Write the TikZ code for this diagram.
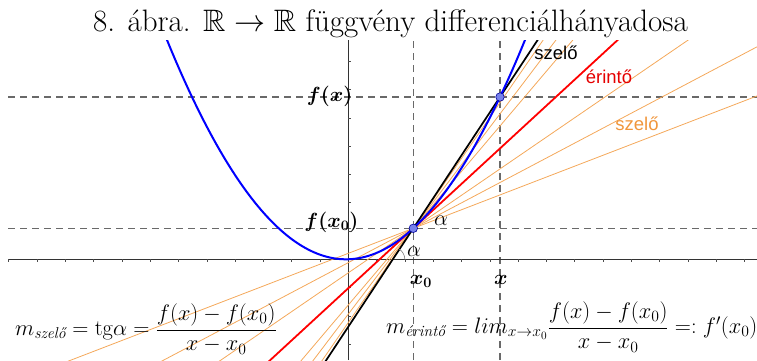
\RequirePackage{fix-cm}
\documentclass[tikz,border=0pt]{standalone}
\usepackage{amsmath,amssymb}
\usepackage{fontspec}
\newfontfamily\arialf{Liberation Sans}
\DeclareFontFamily{U}{msb}{}
\DeclareFontShape{U}{msb}{m}{n}{<-> msbm10}{}
\usetikzlibrary{calc}
\definecolor{orangel}{RGB}{244,168,90}
\definecolor{orangetxt}{RGB}{240,150,60}
\definecolor{dotfill}{RGB}{120,130,235}
\definecolor{dashgray}{RGB}{105,105,105}
\begin{document}
\begin{tikzpicture}[x=1pt,y=1pt,
  dashline/.style={draw=dashgray,line width=1.1pt,dash pattern=on 7pt off 5pt},
  axisline/.style={draw=black!80,line width=0.8pt},
  ticksty/.style={draw=black!70,line width=0.6pt},
  secsty/.style={draw=orangel,line width=0.8pt},
  curvesty/.style={draw=blue,line width=2pt},
  tangsty/.style={draw=red,line width=1.8pt},
  blksty/.style={draw=black,line width=1.7pt},
  dotsty/.style={circle,fill=dotfill,draw=blue!60!black,line width=0.6pt,inner sep=0pt,minimum size=8.5pt},
  boldlbl/.style={inner sep=0pt,font=\fontsize{20.5}{24}\selectfont},
  alphalbl/.style={inner sep=0pt,font=\fontsize{22}{26}\selectfont},
  sanslbl/.style={inner sep=0pt,font=\arialf\fontsize{18.5}{22}\selectfont},
  formula/.style={anchor=west,inner sep=0pt,font=\fontsize{22.4}{26}\selectfont},
]
\useasboundingbox (0,0) rectangle (757,360);

\coordinate (O) at (348.3,100.7);
\coordinate (P0) at (413.3,131.7);
\coordinate (P1) at (500,263.0);
\coordinate (B) at (392.8,100.7);

% dashed guide lines
\draw[dashline] (8,131.7) -- (757,131.7);
\draw[dashline] (8,263.0) -- (757,263.0);
\draw[dashline] (413.3,0) -- (413.3,320);
\draw[dashline] (500,0) -- (500,320);

% axes
\draw[axisline] (9,100.7) -- (757,100.7);
\draw[axisline] (348.3,0) -- (348.3,320);
\foreach \k in {-12,-11,-10,-9,-8,-7,-6,-5,-4,-3,-2,-1,1,2,3,4,5,6,7,8,9,10,11,12,13,14}
  \draw[ticksty] ({348.3+28.3*\k},100.7) -- ++(0,-3);
\foreach \k in {-3,-2,-1,1,2,3,4,5,6,7}
  \draw[ticksty] (348.3,{100.7+28.3*\k}) -- ++(3,0);

\begin{scope}
\clip (0,0) rectangle (757,320);
\foreach \m in {0.385,0.528,0.685,1.18,1.32,1.45}
  \draw[secsty] (P0) ++(-450,{-450*\m}) -- ++(900,{900*\m});
\draw[tangsty] (P0) ++(-450,{-450*0.9213}) -- ++(900,{900*0.9213});
\draw[blksty] ($(P0)!-3!(P1)$) -- ($(P0)!4!(P1)$);
\draw[curvesty,domain=160:535,samples=120] plot (\x,{100.7+(0.082731*(\x-346))^2});
\end{scope}

% angle arc
\draw[gray,line width=0.6pt] (B) ++(12,0) arc[start angle=0,end angle=56.6,radius=12];

% points
\node[dotsty] (p0) at (P0) {};
\node[dotsty] (p1) at (P1) {};

% labels
\node[boldlbl,anchor=east] (lfx) at (352.5,264) {$\boldsymbol{f(x)}$};
\node[boldlbl,anchor=east] (lfx0) at (358.5,138) {$\boldsymbol{f(x_0)}$};
\node[boldlbl] (lx0) at (420.8,79) {$\boldsymbol{x_0}$};
\node[boldlbl] (lx) at (500.8,80.5) {$\boldsymbol{x}$};
\node[alphalbl] (a1) at (441,139.5) {$\alpha$};
\node[alphalbl] (a2) at (414,108.5) {$\alpha$};

\node[sanslbl,text=black] (s1) at (556,307.5) {szelő};
\node[sanslbl,text=red!90!black] (s2) at (609,283) {érintő};
\node[sanslbl,text=orangetxt] (s3) at (637,236) {szelő};

% title
\node[anchor=base,inner sep=0pt,font=\fontsize{31}{36}\selectfont] (title) at (390.5,328.3)
  {8. ábra. $\mathbb{R}\to\mathbb{R}$ függvény differenciálhányadosa};

% formulas
\node[formula] (f1) at (15,31)
  {$m_{\text{\itshape szelő}}=\mathrm{tg}\alpha=\dfrac{f(x)-f(x_0)}{x-x_0}$};
\node[formula] (f2) at (386,33)
  {$m_{\text{\itshape érintő}}=lim_{x\to x_0}\dfrac{f(x)-f(x_0)}{x-x_0}=:f'(x_0)$};
\end{tikzpicture}
\end{document}
